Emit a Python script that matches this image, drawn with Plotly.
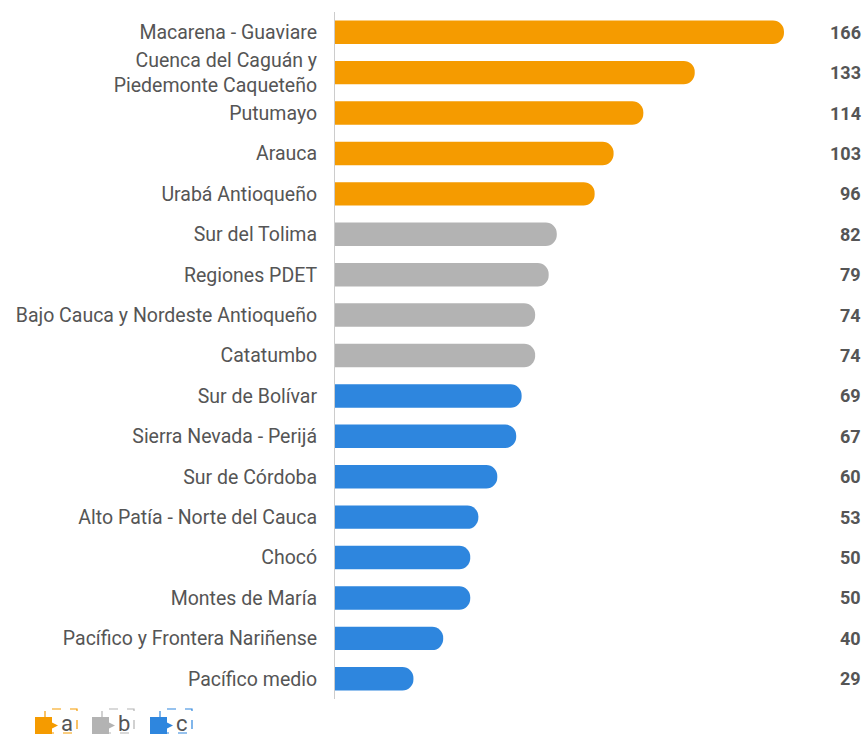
import plotly.graph_objects as go

categories = [
    "Macarena - Guaviare",
    "Cuenca del Caguán y<br>Piedemonte Caqueteño",
    "Putumayo",
    "Arauca",
    "Urabá Antioqueño",
    "Sur del Tolima",
    "Regiones PDET",
    "Bajo Cauca y Nordeste Antioqueño",
    "Catatumbo",
    "Sur de Bolívar",
    "Sierra Nevada - Perijá",
    "Sur de Córdoba",
    "Alto Patía - Norte del Cauca",
    "Chocó",
    "Montes de María",
    "Pacífico y Frontera Nariñense",
    "Pacífico medio",
]
values = [166, 133, 114, 103, 96, 82, 79, 74, 74, 69, 67, 60, 53, 50, 50, 40, 29]
groups = ["a"] * 5 + ["b"] * 4 + ["c"] * 8
group_names = ["a", "b", "c"]
group_colors = {"a": "#F59B00", "b": "#B3B3B3", "c": "#2E86DE"}

W, H = 867, 737
ML, MR, MT, MB = 335, 0, 12, 38
PW, PH = W - ML - MR, H - MT - MB
LABEL_FONT = dict(family="Roboto", size=19.5, color="#555555")

fig = go.Figure()
for g in group_names:
    ys = [c for c, gg in zip(categories, groups) if gg == g]
    xs = [v for v, gg in zip(values, groups) if gg == g]
    fig.add_trace(go.Bar(
        x=xs, y=ys, orientation="h", name=g,
        marker=dict(color=group_colors[g], line=dict(width=0)),
        showlegend=False, hoverinfo="x+y",
    ))

# value labels at the right edge
for c, v in zip(categories, values):
    fig.add_annotation(
        x=1, xref="paper", y=c, yref="y", text=f"<b>{v}</b>",
        showarrow=False, xanchor="right", xshift=-4,
        font=dict(family="Roboto", size=18, color="#555555"),
    )


def px(x):
    return (x - ML) / PW


def py(y):
    return (H - MB - y) / PH


# custom legend
legend_x = [35, 92, 150]
for g, x0 in zip(group_names, legend_x):
    col = group_colors[g]
    fig.add_shape(type="rect", xref="paper", yref="paper",
                  x0=px(x0 + 10), x1=px(x0 + 42), y0=py(733), y1=py(709),
                  line=dict(color=col, width=1.2, dash="dash"), fillcolor="rgba(0,0,0,0)")
    fig.add_shape(type="rect", xref="paper", yref="paper",
                  x0=px(x0), x1=px(x0 + 17), y0=py(734), y1=py(717),
                  line=dict(width=0), fillcolor=col)
    fig.add_shape(type="path", xref="paper", yref="paper",
                  path=f"M {px(x0+17)},{py(722.5)} L {px(x0+23)},{py(725.5)} L {px(x0+17)},{py(728.5)} Z",
                  line=dict(width=0), fillcolor=col)
    fig.add_annotation(x=px(x0 + 32), y=py(723), xref="paper", yref="paper",
                       text=g, showarrow=False, xanchor="center", yanchor="middle",
                       font=dict(family="Roboto", size=22, color="#555555"))

fig.update_layout(
    width=W, height=H,
    margin=dict(l=ML, r=MR, t=MT, b=MB),
    paper_bgcolor="white", plot_bgcolor="white",
    bargap=0.42, barmode="overlay", barcornerradius=12,
    font=dict(family="Roboto", size=17, color="#555555"),
    xaxis=dict(range=[0, 196.7], visible=False, fixedrange=True),
    yaxis=dict(
        categoryorder="array", categoryarray=categories, autorange="reversed",
        showline=True, linecolor="#CCCCCC", linewidth=1,
        showgrid=False, zeroline=False, ticks="", ticklabelstandoff=13,
        tickfont=LABEL_FONT,
    ),
)

fig.write_html("out.html")
